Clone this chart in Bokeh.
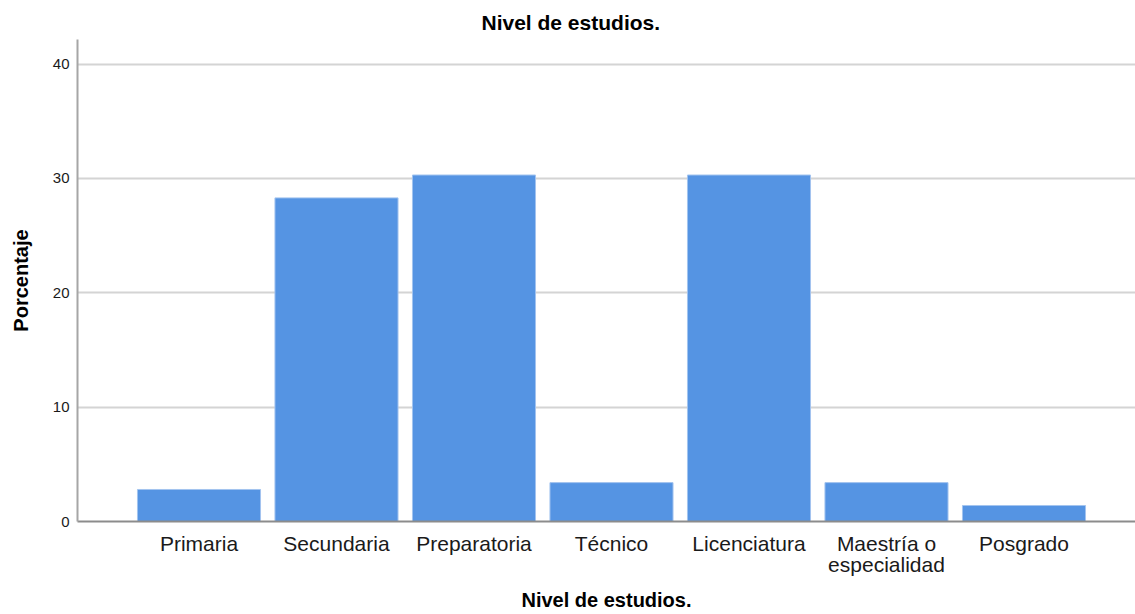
from bokeh.plotting import figure
from bokeh.models import Range1d, FixedTicker, ColumnDataSource
from bokeh.embed import file_html
from bokeh.resources import INLINE

# Nivel de estudios: porcentaje de respuestas por categoría
categories = ["Primaria", "Secundaria", "Preparatoria", "Técnico",
              "Licenciatura", "Maestría o\nespecialidad", "Posgrado"]
percentages = [2.8, 28.3, 30.3, 3.4, 30.3, 3.4, 1.4]
y_ticks = [0, 10, 20, 30, 40]

positions = list(range(1, len(categories) + 1))
source = ColumnDataSource(data=dict(x=positions, pct=percentages))

p = figure(width=1135, height=614, output_backend="svg", toolbar_location=None,
           x_range=Range1d(0.1164, 7.811), y_range=Range1d(0, 42.15),
           min_border_left=77, min_border_right=0, min_border_top=39,
           min_border_bottom=93)

p.vbar(x="x", top="pct", width=0.895, source=source,
       fill_color="#5594e3", line_color="#a3c4ef", line_width=1)

font = "Liberation Sans"

p.title.text = "Nivel de estudios."
p.title.text_font = font
p.title.text_font_size = "21px"
p.title.text_font_style = "bold"
p.title.text_color = "#000000"
p.title.align = "left"
p.title.offset = 404
p.title.standoff = 12

p.outline_line_color = None
p.background_fill_color = "white"
p.border_fill_color = "white"

p.xgrid.visible = False
p.ygrid.grid_line_color = "#d4d4d4"
p.ygrid.grid_line_width = 2
p.ygrid.ticker = FixedTicker(ticks=y_ticks)

xa = p.xaxis[0]
xa.ticker = FixedTicker(ticks=positions)
xa.major_label_overrides = {pos: lab for pos, lab in zip(positions, categories)}
xa.major_label_text_font = font
xa.major_label_text_font_size = "21px"
xa.major_label_text_color = "#1a1a1a"
xa.major_label_text_line_height = 0.95
xa.major_label_standoff = 10
xa.major_tick_out = 0
xa.major_tick_in = 0
xa.minor_tick_out = 0
xa.minor_tick_in = 0
xa.axis_line_color = "#8c8c8c"
xa.axis_line_width = 2
xa.axis_label = "Nivel de estudios."
xa.axis_label_text_font = font
xa.axis_label_text_font_size = "20px"
xa.axis_label_text_font_style = "bold"
xa.axis_label_text_color = "#000000"
xa.axis_label_standoff = 10

ya = p.yaxis[0]
ya.ticker = FixedTicker(ticks=y_ticks)
ya.major_label_text_font = font
ya.major_label_text_font_size = "15px"
ya.major_label_text_color = "#1a1a1a"
ya.major_label_standoff = 8
ya.major_tick_out = 0
ya.major_tick_in = 0
ya.minor_tick_out = 0
ya.minor_tick_in = 0
ya.axis_line_color = "#a6a6a6"
ya.axis_line_width = 2
ya.axis_label = "Porcentaje"
ya.axis_label_text_font = font
ya.axis_label_text_font_size = "20px"
ya.axis_label_text_font_style = "bold"
ya.axis_label_text_color = "#000000"
ya.axis_label_standoff = 18

open("out.html", "w").write(file_html(p, INLINE))
